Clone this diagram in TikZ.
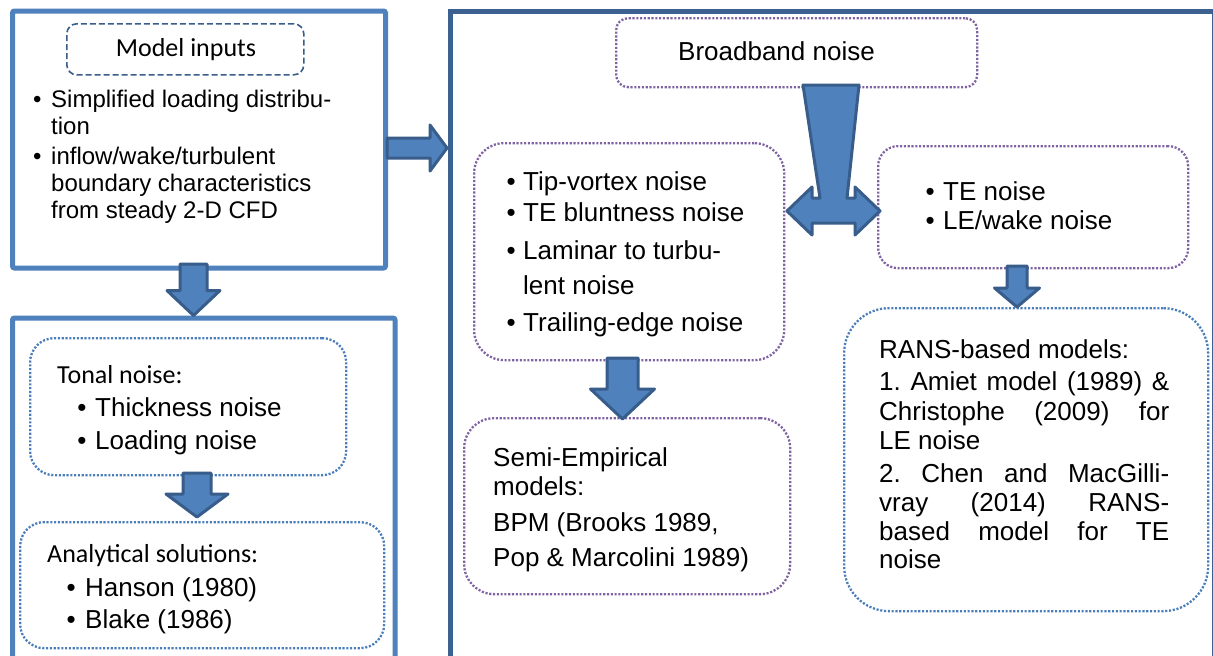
\documentclass[tikz,border=0pt]{standalone}
\usepackage{fontspec}
\usetikzlibrary{calc}
\newfontfamily\arialf{Liberation Sans}
\newfontfamily\calibf{Carlito}
\frenchspacing
\definecolor{boxblue}{HTML}{4F81BD}
\definecolor{darkblue}{HTML}{385D8A}
\definecolor{frameblue}{HTML}{3C6191}
\definecolor{dotpurple}{HTML}{7F62A1}
\definecolor{dotblue}{HTML}{4A7EBB}
\newcommand\bul[1]{\makebox[#1][l]{•}}
\newcommand\jline[1]{\makebox[290pt][s]{#1}}
% downward block arrow: start, end, shaft half width, head half width, head length
\newcommand\downblock[5]{%
  \draw[blockarrow] let \p1=(#1), \p2=(#2) in
    (\x1-#3pt,\y1) -- (\x1+#3pt,\y1) -- (\x1+#3pt,\y2+#5pt) -- (\x1+#4pt,\y2+#5pt)
    -- (\x1,\y2) -- (\x1-#4pt,\y2+#5pt) -- (\x1-#3pt,\y2+#5pt) -- cycle;}
% rightward block arrow
\newcommand\rightblock[5]{%
  \draw[blockarrow] let \p1=(#1), \p2=(#2) in
    (\x1,\y1+#3pt) -- (\x2-#5pt,\y1+#3pt) -- (\x2-#5pt,\y1+#4pt) -- (\x2,\y1)
    -- (\x2-#5pt,\y1-#4pt) -- (\x2-#5pt,\y1-#3pt) -- (\x1,\y1-#3pt) -- cycle;}
\tikzset{
  outerbox/.style={draw=boxblue, line width=5pt, rounded corners=2pt, anchor=north west, inner sep=0pt},
  bigframe/.style={draw=frameblue, line width=4.5pt, anchor=north west, inner sep=0pt},
  dashbox/.style={draw=darkblue, line width=1.6pt, dash pattern=on 6pt off 3pt, rounded corners=10pt, inner sep=0pt},
  purplebox/.style={draw=dotpurple, line width=2.3pt, dash pattern=on 2.1pt off 1.7pt, anchor=north west, inner sep=0pt},
  bluebox/.style={draw=dotblue, line width=2.3pt, dash pattern=on 2.1pt off 1.7pt, anchor=north west, inner sep=0pt},
  blockarrow/.style={fill=boxblue, draw=darkblue, line width=3pt, line join=round},
  txt/.style={inner sep=0pt, anchor=base west, font=\arialf\fontsize{26}{31}\selectfont},
  txtsm/.style={inner sep=0pt, anchor=base west, font=\arialf\fontsize{24}{27}\selectfont},
  ctxt/.style={inner sep=0pt, anchor=base west, font=\calibf\fontsize{26}{31}\selectfont},
}
\begin{document}
\begin{tikzpicture}[x=1pt,y=-1pt]
\useasboundingbox (0,0) rectangle (1213,656);
\clip (0,0) rectangle (1213,656);
\fill[white] (0,0) rectangle (1213,656);

% ---- left column ----
\node[outerbox, minimum width=373pt, minimum height=257pt] (inputs) at (10,8.5) {};
\node[dashbox, minimum width=237pt, minimum height=51pt, anchor=north west] (modelin) at (66,23) {};
\node[ctxt, anchor=base] (modeltxt) at (186,56) {Model inputs};
\node[txtsm] (in1) at (32.8,107) {\bul{18.2pt}Simplified loading distribu-};
\node[txtsm] (in2) at (51,134) {tion};
\node[txtsm] (in3) at (32.8,164) {\bul{18.2pt}inflow/wake/turbulent};
\node[txtsm] (in4) at (51,191) {boundary characteristics};
\node[txtsm] (in5) at (51,218) {from steady 2-D CFD};

\node[outerbox, minimum width=382.5pt, minimum height=400pt] (tonalframe) at (10,315.5) {};
\node[bluebox, rounded corners=24pt, minimum width=316pt, minimum height=137pt] (tonal) at (29,337) {};
\node[ctxt] (tonaltxt) at (57,383) {Tonal noise:};
\node[txt] (ton1) at (77.2,416.7) {\bul{17.8pt}Thickness noise};
\node[txt] (ton2) at (77.2,449.3) {\bul{17.8pt}Loading noise};
\node[bluebox, rounded corners=24pt, minimum width=364pt, minimum height=126pt] (anal) at (19,521) {};
\node[ctxt] (analtxt) at (47,562.7) {Analytical solutions:};
\node[txt] (an1) at (66.5,596.7) {\bul{18.5pt}Hanson (1980)};
\node[txt] (an2) at (66.5,628.3) {\bul{18.5pt}Blake (1986)};

% ---- right frame ----
\node[bigframe, minimum width=764pt, minimum height=700pt] (broadframe) at (448,9) {};
\node[purplebox, rounded corners=12pt, minimum width=361pt, minimum height=69pt] (broad) at (615,17) {};
\node[txt] (broadtxt) at (678,60) {Broadband noise};

\node[purplebox, rounded corners=30pt, minimum width=310pt, minimum height=217pt] (tip) at (473,142) {};
\node[txt] (tp1) at (506.5,190) {\bul{16.5pt}Tip-vortex noise};
\node[txt] (tp2) at (506.5,221.7) {\bul{16.5pt}TE bluntness noise};
\node[txt] (tp3) at (506.5,259.3) {\bul{16.5pt}Laminar to turbu-};
\node[txt] (tp4) at (523,294) {lent noise};
\node[txt] (tp5) at (506.5,331.7) {\bul{16.5pt}Trailing-edge noise};

\node[purplebox, rounded corners=30pt, minimum width=326pt, minimum height=176pt] (semi) at (463,417) {};
\node[txt] (se1) at (493,466) {Semi-Empirical};
\node[txt] (se2) at (493,495) {models:};
\node[txt] (se3) at (493,531) {BPM (Brooks 1989,};
\node[txt] (se4) at (493,566.7) {Pop \& Marcolini 1989)};

\node[purplebox, rounded corners=20pt, minimum width=310pt, minimum height=122pt] (te) at (877,145) {};
\node[txt] (te1) at (925.5,200) {\bul{17.5pt}TE noise};
\node[txt] (te2) at (925.5,229) {\bul{17.5pt}LE/wake noise};

\node[bluebox, rounded corners=45pt, minimum width=364pt, minimum height=303pt] (rans) at (843,307) {};
\node[txt] (ra1) at (879,358.3) {RANS-based models:};
\node[txt] (ra2) at (879,390.7) {\jline{1. Amiet model (1989) \&}};
\node[txt] (ra3) at (879,420.7) {\jline{Christophe (2009) for}};
\node[txt] (ra4) at (879,449) {LE noise};
\node[txt] (ra5) at (879,482.7) {\jline{2. Chen and MacGilli-}};
\node[txt] (ra6) at (879,511.7) {\jline{vray (2014) RANS-}};
\node[txt] (ra7) at (879,540.7) {\jline{based model for TE}};
\node[txt] (ra8) at (879,568.3) {noise};

% ---- block arrows ----
\coordinate (a1) at (193.5,264);
\downblock{a1}{tonalframe.north -| a1}{13.5}{26.5}{25}
\coordinate (a2) at (197,473);
\coordinate (a2e) at (197,517);
\downblock{a2}{a2e}{14}{31}{23}
\coordinate (a3) at (622.5,358);
\coordinate (a3e) at (622.5,419);
\downblock{a3}{a3e}{15.5}{32}{30}
\coordinate (a4) at (1017,266);
\downblock{a4}{rans.north -| a4}{10}{22.5}{19}
\coordinate (a5) at (387,148);
\coordinate (a5e) at (447,148);
\rightblock{a5}{a5e}{10}{23}{17}

% split arrow from broadband box to both branches
\draw[blockarrow, shift={(831,85)}]
  (-28,0) -- (28,0) -- (16,113) -- (24,113) -- (24,102) -- (49,126) -- (24,150)
  -- (24,138) -- (-19,138) -- (-19,150) -- (-44,126) -- (-19,102) -- (-19,113)
  -- (-11,113) -- cycle;
\end{tikzpicture}
\end{document}
